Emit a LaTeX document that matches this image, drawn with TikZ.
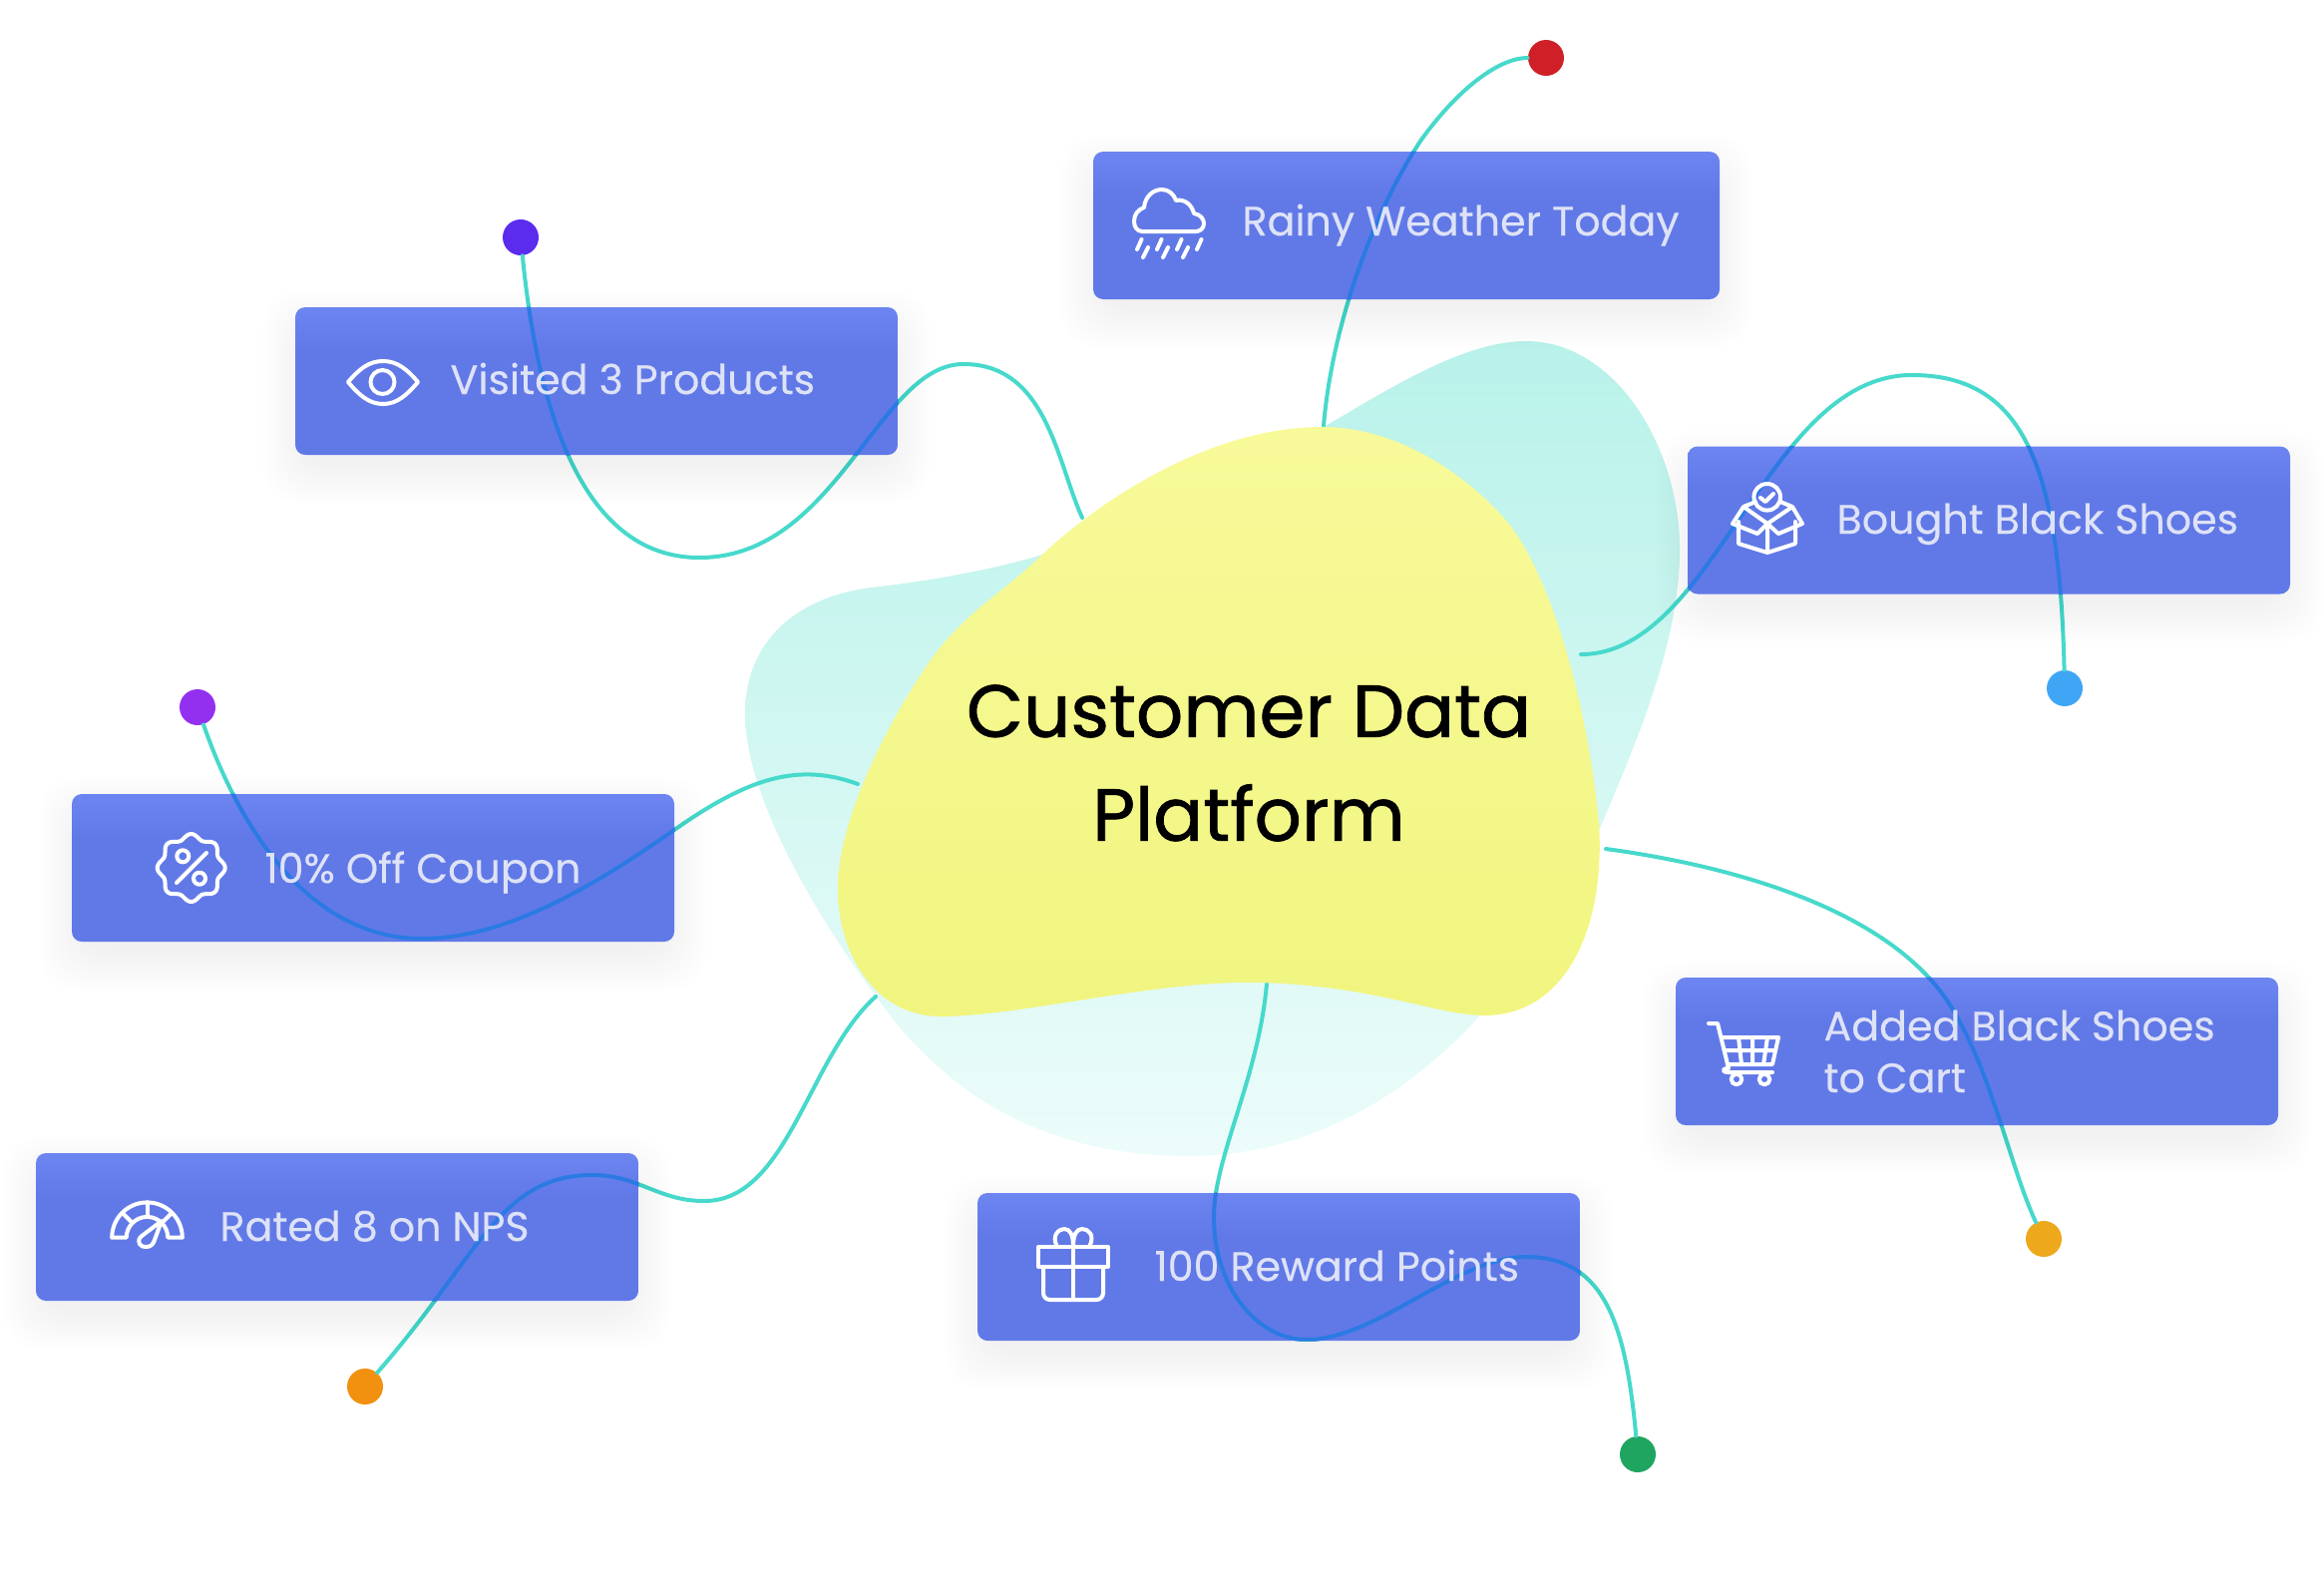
\documentclass[tikz,border=0pt]{standalone}
\usepackage{fontspec}
\setmainfont[FakeBold=0.25]{Poppins}
\newfontfamily\titlefont[FakeBold=1]{Poppins}

\definecolor{boxtop}{HTML}{6C85F1}
\definecolor{boxbottom}{HTML}{6179E7}
\definecolor{labelgrey}{HTML}{DEE2F6}
\definecolor{wireout}{HTML}{47D9CB}
\definecolor{wirein}{HTML}{2B7AE3}
\pgfdeclareverticalshading{boxshade}{100bp}{color(0bp)=(boxbottom); color(60bp)=(boxbottom); color(75bp)=(boxtop); color(100bp)=(boxtop)}

\tikzset{every picture/.style={line width=0.75pt}}
\tikzset{
  taskbox/.style={inner sep=0pt,minimum height=111pt,rounded corners=7.5pt,shade,shading=boxshade},
  tasktext/.style={anchor=base west,inner sep=0.75pt,text=labelgrey,font=\fontsize{30.9}{39}\selectfont},
  wire/.style={draw=wireout,line width=3pt,line cap=round},
  wirecut/.style={draw=wirein,line width=3pt},
  enddot/.style={circle,inner sep=0pt,minimum size=27pt},
  icon/.style={draw=white,line width=3pt,line join=round,line cap=round},
  shadowlayer/.style={fill=black,opacity=0.0045,rounded corners=28pt}
}

% one box with its soft shadow: name, centre x, centre y, width in pt
\newcommand\taskbox[4]{
  \foreach \g in {-6,-3,...,33} {
    \fill[shadowlayer] ({#2-#4/1.5-\g},{#3-74+16-\g}) rectangle ({#2+#4/1.5+\g},{#3+74+16+\g});
  }
  \node (#1) [taskbox,minimum width=#4pt] at (#2,#3) {};
}
\newcommand\wirecut[2]{
  \begin{scope}
    \clip[rounded corners=7.5pt] (#1.south west) rectangle (#1.north east);
    \draw[wirecut] #2;
  \end{scope}
}

\newcommand\rainywire{(rainyend) .. controls (1335,330) and (1375,215) .. (1425,140) .. controls (1465,85) and (1505,58) .. (rainydot)}
\newcommand\visitedwire{(visitedend) .. controls (1060,465) and (1050,365) .. (966,365) .. controls (880,365) and (840,559) .. (701,559) .. controls (610,559) and (545,470) .. (visiteddot)}
\newcommand\boughtwire{(boughtend) .. controls (1720,656) and (1770,376) .. (1917,376) .. controls (2030,376) and (2065,470) .. (boughtdot)}
\newcommand\couponwire{(couponend) .. controls (800,764) and (750,780) .. (676,832) .. controls (600,885) and (510,941) .. (423,941) .. controls (310,941) and (240,830) .. (coupondot)}
\newcommand\ratedwire{(ratedend) .. controls (810,1060) and (790,1204) .. (706,1204) .. controls (660,1204) and (640,1178) .. (594,1178) .. controls (500,1178) and (480,1260) .. (rateddot)}
\newcommand\rewardwire{(rewardend) .. controls (1262,1080) and (1217,1160) .. (1217,1220) .. controls (1217,1290) and (1260,1343) .. (1310,1343) .. controls (1380,1343) and (1460,1260) .. (1530,1260) .. controls (1610,1260) and (1630,1330) .. (rewarddot)}
\newcommand\cartwire{(cartend) .. controls (1750,870) and (1890,915) .. (1950,1000) .. controls (1995,1065) and (2015,1170) .. (cartdot)}

\begin{document}
\begin{tikzpicture}[x=0.75pt,y=0.75pt,yscale=-1,xscale=1]
\useasboundingbox (0,0) rectangle (2330,1596);

%Shape: Back Blob
\shade [top color={rgb, 255:red, 184; green, 242; blue, 234},bottom color={rgb, 255:red, 236; green, 252; blue, 250}] (1530,342) .. controls (1620,342) and (1686,450) .. (1684,556) .. controls (1682,650) and (1640,745) .. (1603,833) -- (1485,1017) .. controls (1400,1110) and (1300,1159) .. (1192,1159) .. controls (1050,1159) and (950,1100) .. (879,1000) .. controls (820,920) and (747,800) .. (747,715) .. controls (747,650) and (790,600) .. (873,589) .. controls (930,583) and (1000,570) .. (1045,556) -- (1329,427) .. controls (1400,385) and (1470,342) .. (1530,342) -- cycle ;

%Wire ends and dots
\coordinate (rainyend) at (1327,427);
\coordinate (visitedend) at (1085,519);
\coordinate (boughtend) at (1585,656);
\coordinate (couponend) at (860,786);
\coordinate (ratedend) at (878,999);
\coordinate (rewardend) at (1270,986);
\coordinate (cartend) at (1610,851);
\node (rainydot) [enddot,fill={rgb, 255:red, 208; green, 32; blue, 39}] at (1550,58) {};
\node (visiteddot) [enddot,fill={rgb, 255:red, 91; green, 43; blue, 238}] at (522,238) {};
\node (boughtdot) [enddot,fill={rgb, 255:red, 63; green, 166; blue, 245}] at (2070,690) {};
\node (coupondot) [enddot,fill={rgb, 255:red, 147; green, 48; blue, 240}] at (198,709) {};
\node (rateddot) [enddot,fill={rgb, 255:red, 242; green, 144; blue, 15}] at (366,1390) {};
\node (rewarddot) [enddot,fill={rgb, 255:red, 31; green, 165; blue, 96}] at (1642,1458) {};
\node (cartdot) [enddot,fill={rgb, 255:red, 237; green, 168; blue, 27}] at (2049,1242) {};

%Curve Lines
\draw [wire] \rainywire ;
\draw [wire] \visitedwire ;
\draw [wire] \boughtwire ;
\draw [wire] \couponwire ;
\draw [wire] \ratedwire ;
\draw [wire] \rewardwire ;
\draw [wire] \cartwire ;

%Shape: Front Blob
\shade [top color={rgb, 255:red, 248; green, 250; blue, 154},bottom color={rgb, 255:red, 241; green, 245; blue, 127}] (1326,428) .. controls (1400,428) and (1470,475) .. (1511,523) .. controls (1550,570) and (1590,690) .. (1603,825) .. controls (1610,930) and (1570,1018) .. (1488,1018) .. controls (1440,1018) and (1370,985) .. (1249,985) .. controls (1150,985) and (1020,1019) .. (943,1019) .. controls (880,1019) and (840,960) .. (840,890) .. controls (840,830) and (880,740) .. (930,666) .. controls (965,615) and (1005,595) .. (1045,556) .. controls (1085,518) and (1200,428) .. (1326,428) -- cycle ;

%Boxes
\taskbox{rainy}{1410}{226}{471}
\taskbox{bought}{1994}{521.5}{453}
\taskbox{visited}{598}{382}{453}
\taskbox{coupon}{374}{870}{453}
\taskbox{rated}{338}{1230}{453}
\taskbox{reward}{1282}{1270}{453}
\taskbox{cart}{1982}{1054}{453}

%Wires seen through the boxes
\wirecut{rainy}{\rainywire}
\wirecut{bought}{\boughtwire}
\wirecut{visited}{\visitedwire}
\wirecut{coupon}{\couponwire}
\wirecut{rated}{\ratedwire}
\wirecut{reward}{\rewardwire}
\wirecut{cart}{\cartwire}

%Icon: cloud
\draw [icon] (1145,232) .. controls (1140,232) and (1137,227) .. (1137,222) .. controls (1137,215) and (1141,210) .. (1147,208) .. controls (1148,197) and (1156,190) .. (1165,190) .. controls (1172,190) and (1177,195) .. (1179,201) .. controls (1187,199) and (1195,205) .. (1197,214) .. controls (1203,215) and (1207,219) .. (1207,224) .. controls (1207,229) and (1203,232) .. (1199,232) -- cycle ;
\foreach \x in {1140,1160,1180,1200} {
  \draw [icon] (\x,250) -- (\x+4.5,240) ;
}
\foreach \x in {1146,1166,1186} {
  \draw [icon] (\x,258) -- (\x+5,248) ;
}
%Icon: eye
\draw [icon] (349,383) .. controls (360,370) and (370,362) .. (384,362) .. controls (398,362) and (408,370) .. (419,383) .. controls (408,396) and (398,405) .. (384,405) .. controls (370,405) and (360,396) .. (349,383) -- cycle ;
\draw [icon] (383.5,383) circle (12) ;
%Icon: parcel
\draw [icon] (1771.7,498.3) circle (13.3) ;
\draw [icon] (1765,499) -- (1770,503) -- (1778,495) ;
\draw [icon] (1743,523) -- (1743,545) -- (1772,554) -- (1800,545) -- (1800,523) (1772,525) -- (1772,554) ;
\draw [icon] (1760,503) -- (1748,508) -- (1737,525) -- (1762,535) -- (1772,525) -- (1783,535) -- (1807,525) -- (1797,508) -- (1785,503) (1748,508) -- (1772,525) -- (1797,508) ;
%Icon: seal
\draw [icon] plot [domain=0:360,samples=121,smooth] ({191.7+(31.5+2.5*cos(8*\x))*cos(\x)},{870+(31.5+2.5*cos(8*\x))*sin(\x)}) ;
\draw [icon] (177,885) -- (207,855) ;
\draw [icon] (183.3,858.3) circle (6) ;
\draw [icon] (200,880.7) circle (6) ;
%Icon: gauge
\draw [icon] (112.2,1240.7) arc (180:360:35.3) -- (168.3,1240.7) arc (360:180:20.8) -- cycle ;
\foreach \a in {225,270,315} {
  \draw [icon] (147.5,1240.7) ++(\a:20.8) -- ++(\a:14.5) ;
}
\draw [icon] (162,1224) -- (141.5,1239.5) .. controls (136,1245) and (141,1251) .. (147,1250) .. controls (152,1250) and (154,1246) .. (155,1243) -- cycle ;
%Icon: gift
\draw [icon] (1041,1250) rectangle (1111,1270) ;
\draw [icon,rounded corners=5pt] (1046,1270) -- (1046,1303) -- (1106,1303) -- (1106,1270) ;
\draw [icon] (1076,1250) -- (1076,1303) ;
\draw [icon] (1059.5,1249) .. controls (1054,1238) and (1062,1232) .. (1067,1232) .. controls (1073,1232) and (1076,1238) .. (1076,1250) .. controls (1076,1238) and (1079,1232) .. (1085,1232) .. controls (1091,1232) and (1098,1238) .. (1092.5,1249) ;
%Icon: cart
\draw [icon] (1713,1026) -- (1722,1026) -- (1733,1071) .. controls (1726,1071) and (1726,1075) .. (1733,1075) -- (1777,1075) ;
\draw [icon] (1727,1040) -- (1783,1040) -- (1777,1067) -- (1732,1067) ;
\draw [icon] (1743,1040) -- (1746,1067) (1757,1040) -- (1757,1067) (1772,1040) -- (1768,1067) (1729,1053) -- (1780,1053) ;
\draw [icon] (1741,1082) circle (5.3) ;
\draw [icon] (1769,1082) circle (5.3) ;

% Text Node
\draw (1252,765) node (platform) [anchor=center,inner sep=0.75pt,align=center,font=\fontsize{55.5}{78}\selectfont\titlefont] {Customer Data\\Platform};
% Text Node
\draw (1244,236) node (rainytext) [tasktext] {Rainy Weather Today};
% Text Node
\draw (1840,535) node (boughttext) [tasktext] {Bought Black Shoes};
% Text Node
\draw (450,395) node (visitedtext) [tasktext] {Visited 3 Products};
% Text Node
\draw (264,885) node (coupontext) [tasktext] {10\% Off Coupon};
% Text Node
\draw (219,1244) node (ratedtext) [tasktext] {Rated 8 on NPS};
% Text Node
\draw (1156,1284) node (rewardtext) [tasktext] {100 Reward Points};
% Text Node
\draw (1827,1054) node (carttext) [tasktext,anchor=west,align=left] {Added Black Shoes\\to Cart};

\end{tikzpicture}
\end{document}
